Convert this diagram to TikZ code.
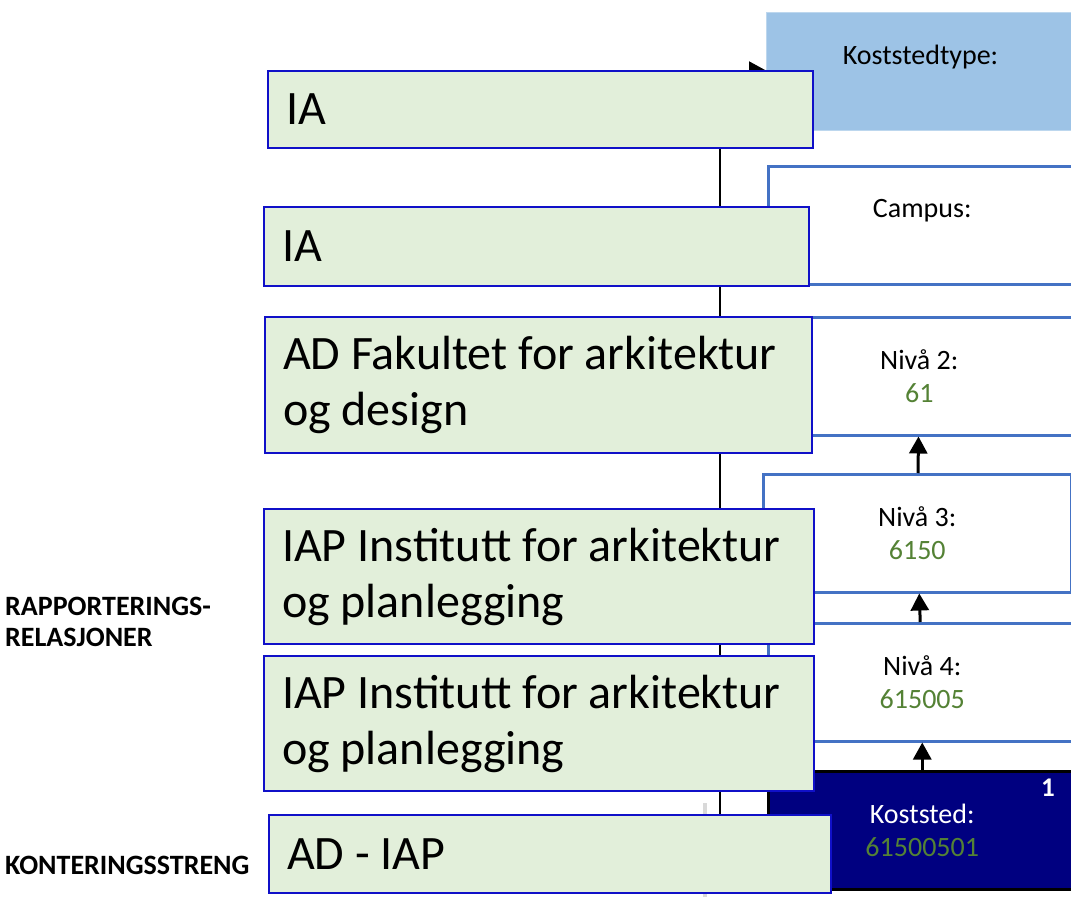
\documentclass[tikz,border=0pt]{standalone}
\usepackage{fontspec}
\setmainfont{Carlito}
\usetikzlibrary{positioning}
\usetikzlibrary{arrows.meta}
\definecolor{grpfill}{HTML}{E2EFDA}
\definecolor{grpline}{HTML}{1010C8}
\definecolor{lvlline}{HTML}{4472C4}
\definecolor{typfill}{HTML}{9DC3E6}
\definecolor{typline}{HTML}{BDD7EE}
\definecolor{kostfill}{HTML}{000080}
\definecolor{codegreen}{HTML}{548235}

\begin{document}
\begin{tikzpicture}[x=1pt,y=-1pt,
  grp/.style={draw=grpline,fill=grpfill,line width=2pt,anchor=north west,inner xsep=18pt,align=flush left,font=\fontsize{48}{56}\selectfont},
  lvl/.style={draw=lvlline,fill=white,line width=2.5pt,anchor=north west,minimum width=308pt,minimum height=118pt,align=center,font=\fontsize{28}{33}\selectfont},
  rel/.style={anchor=west,inner sep=0pt,align=left,font=\fontsize{28}{31}\selectfont\bfseries},
  up/.style={line width=3pt,-{Triangle[length=17pt,width=18pt]}}]
\useasboundingbox (0,0) rectangle (1071,897);
\clip (0,0) rectangle (1071,897);

% right column
\node[lvl,draw=typline,line width=1pt,fill=typfill] (typ) at (766,12) {Koststedtype:\\\mbox{}};
\node[lvl] (campus) at (767,165) {Campus:\\\mbox{}};
\node[lvl] (niva2) at (764,316) {Nivå 2:\\\textcolor{codegreen}{61}};
\node[lvl] (niva3) at (762,473) {Nivå 3:\\\textcolor{codegreen}{6150}};
\node[lvl] (niva4) at (767,622) {Nivå 4:\\\textcolor{codegreen}{615005}};
\node[lvl,draw=black,fill=kostfill,text=white] (kost) at (767,770) {Koststed:\\\textcolor{codegreen}{61500501}};
\node[font=\fontsize{27}{33}\selectfont\bfseries,text=white] (nr) at (1048,788) {1};

\draw[up] (kost) -- (niva4);
\draw[up] (niva4) -- (niva3);
\draw[up] (niva3) -- (niva2);

% spine
\coordinate (spine) at (720,814);
\draw[up,line width=2pt] (spine) |- ([yshift=1pt]typ.west);
\draw[line width=4pt,color=black!15] (705,803) -- (705,897);

% left column
\node[grp,text width=509pt,minimum height=77pt] (ia1) at (267,70) {IA};
\node[grp,text width=509pt,minimum height=79pt] (ia2) at (263,206) {IA};
\node[grp,text width=511pt,minimum height=136pt] (ad) at (264,316) {AD Fakultet for arkitektur\\og design};
\node[grp,text width=514pt,minimum height=135pt] (iap1) at (263,508) {IAP Institutt for arkitektur\\og planlegging};
\node[grp,text width=514pt,minimum height=135pt] (iap2) at (263,655) {IAP Institutt for arkitektur\\og planlegging};
\node[grp,text width=526pt,minimum height=78pt] (adiap) at (268,814) {AD - IAP};

\node[rel] (rapp) at (5,622) {RAPPORTERINGS-\\RELASJONER};
\node[rel] (kont) at (5,865) {KONTERINGSSTRENG};
\end{tikzpicture}
\end{document}
